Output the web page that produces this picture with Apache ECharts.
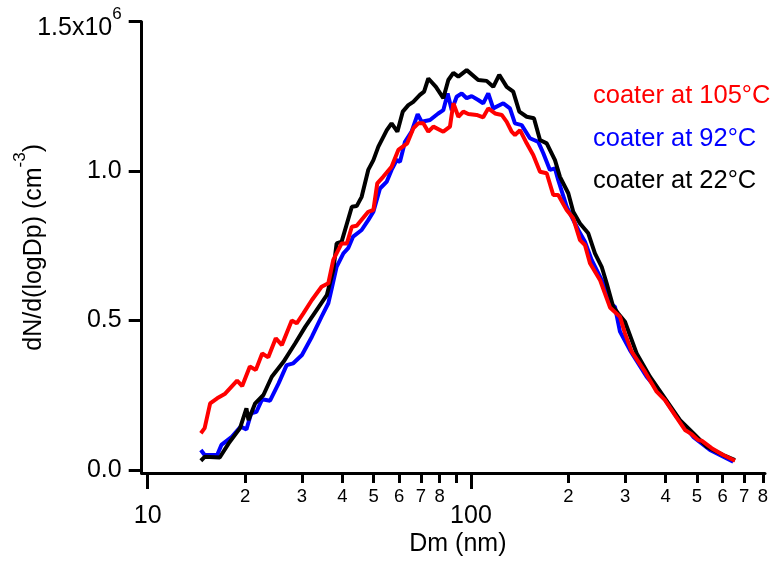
<!DOCTYPE html>
<html><head><meta charset="utf-8">
<script src="https://cdn.jsdelivr.net/npm/echarts@6/dist/echarts.min.js"></script>
<style>html,body{margin:0;padding:0;background:#fff}#c{width:774px;height:562px}</style>
</head><body><div id="c"></div>
<script>
// ---- data (Dm in nm, dN/dlogDp in units of 10^6 cm^-3) ----
const seriesNames = ['coater at 105°C', 'coater at 92°C', 'coater at 22°C'];
const seriesColors = ['#ff0000', '#0000ff', '#000000'];

const redDp = [14.6,15.0,15.6,16.4,17.3,18.9,19.6,20.7,21.6,22.6,23.6,24.9,26.0,27.9,28.9,30.3,32.2,34.5,36.2,37.5,39.8,41.3,42.8,44.3,48.1,49.9,51.3,53.5,56.8,59.6,63.5,66.3,68.7,71.2,73.8,76.5,82.1,86.1,88.2,91.4,94.7,98.1,104.1,109.1,113.1,118.7,124.5,129.0,133.6,136.8,141.8,148.7,155.8,163.5,171.5,179.7,186.2,197.7,207.2,217.4,225.2,233.4,250.6,269.2,289.0,299.5,314.1,345.3,375.3,398.2,427.6,459.2,481.6,504.8,517.1,555.3,603.1,655.7];
const redN = [0.123,0.140,0.223,0.240,0.254,0.299,0.281,0.346,0.335,0.390,0.377,0.441,0.418,0.500,0.491,0.524,0.569,0.613,0.625,0.703,0.758,0.758,0.814,0.817,0.864,0.870,0.959,0.981,1.015,1.071,1.093,1.143,1.160,1.160,1.132,1.149,1.132,1.149,1.227,1.182,1.199,1.191,1.188,1.180,1.210,1.193,1.188,1.165,1.132,1.121,1.137,1.093,1.054,0.998,0.993,0.920,0.920,0.870,0.842,0.769,0.753,0.692,0.636,0.544,0.513,0.457,0.396,0.329,0.262,0.234,0.184,0.134,0.120,0.100,0.098,0.073,0.050,0.031];

const blueDp = [14.6,15.0,16.4,16.9,18.2,19.4,20.2,20.9,21.7,22.6,23.9,25.4,26.9,28.2,30.0,32.2,34.5,36.2,37.1,38.4,40.3,41.7,43.2,45.9,48.1,49.9,52.3,54.9,56.8,58.9,60.3,62.5,65.5,68.4,70.4,74.7,79.2,82.1,84.7,87.2,90.3,93.6,97.0,100.5,105.3,109.1,113.1,117.2,125.9,132.0,136.8,143.5,152.2,161.5,167.4,175.5,181.9,186.2,197.7,204.9,214.8,225.2,236.2,256.6,269.2,278.9,289.0,310.3,349.5,393.3,432.8,487.1,548.7,647.8];
const blueN = [0.067,0.050,0.050,0.084,0.111,0.145,0.136,0.190,0.195,0.237,0.232,0.290,0.351,0.357,0.385,0.446,0.513,0.558,0.608,0.680,0.725,0.742,0.781,0.803,0.836,0.864,0.942,0.965,1.004,1.037,1.031,1.098,1.132,1.191,1.165,1.171,1.193,1.204,1.260,1.204,1.249,1.260,1.244,1.251,1.238,1.227,1.260,1.210,1.227,1.210,1.160,1.154,1.110,1.098,1.060,1.004,1.009,0.970,0.881,0.847,0.803,0.764,0.703,0.625,0.558,0.546,0.463,0.401,0.312,0.245,0.178,0.111,0.067,0.028];

const blackDp = [14.6,15.0,16.7,17.8,19.3,20.2,20.5,21.5,22.8,24.2,26.3,28.6,30.7,33.3,35.8,37.5,38.4,39.8,42.8,44.3,45.9,48.1,49.9,51.7,54.9,56.8,59.2,61.5,64.0,66.3,69.5,71.6,73.8,77.9,82.1,85.1,88.2,91.4,97.0,105.3,111.8,117.2,122.3,129.0,135.1,141.1,148.7,156.6,163.5,171.5,181.9,188.5,200.0,207.2,217.4,230.6,241.8,253.7,262.9,275.4,285.4,299.5,325.5,357.8,398.2,443.2,487.1,536.0,603.1,655.7];
const blackN = [0.031,0.044,0.042,0.089,0.140,0.206,0.167,0.223,0.251,0.312,0.362,0.424,0.479,0.535,0.585,0.669,0.758,0.764,0.881,0.883,0.914,1.004,1.037,1.082,1.137,1.160,1.132,1.199,1.221,1.232,1.255,1.266,1.310,1.282,1.244,1.305,1.329,1.316,1.338,1.305,1.302,1.282,1.322,1.282,1.266,1.199,1.182,1.177,1.104,1.093,1.037,0.981,0.926,0.864,0.825,0.792,0.725,0.680,0.625,0.546,0.524,0.496,0.390,0.312,0.240,0.167,0.123,0.078,0.050,0.033];

// ---- axis ticks / labels ----
const xMajorTicks = [10, 100];
const xMinorTicks = [20,30,40,50,60,70,80,90,200,300,400,500,600,700,800];
const xMinorLabelled = [20,30,40,50,60,70,80,200,300,400,500,600,700,800];
const yTicks = [0, 0.5, 1.0, 1.5];
const xRange = [9.58, 812];
const yRange = [-0.01, 1.5];

// ---- build ----
const FONT = "'Liberation Sans', Arial, sans-serif";
const L = v => Math.log10(v);
const pairs = (xs, ys) => xs.map((x, i) => [L(x), ys[i]]);
const lineData = [pairs(redDp, redN), pairs(blueDp, blueN), pairs(blackDp, blackN)];

const baseX = {
  type: 'value', min: L(xRange[0]), max: L(xRange[1]), position: 'bottom',
  splitLine: { show: false }, nameMoveOverlap: false
};

const option = {
  animation: false,
  backgroundColor: '#fff',
  grid: { left: 141.7, right: 9, top: 21.7, bottom: 89, containLabel: false, outerBoundsMode: 'none' },
  xAxis: [
    Object.assign({}, baseX, {
      name: 'Dm (nm)', nameLocation: 'middle', nameGap: 59,
      nameTextStyle: { fontSize: 25, color: '#000', fontFamily: FONT, padding: [0, 0, 0, 9] },
      axisLine: { show: true, onZero: false, lineStyle: { color: '#000', width: 3 } },
      axisTick: { show: true, inside: false, length: 10, lineStyle: { color: '#000', width: 3 },
                  customValues: xMinorTicks.map(L) },
      axisLabel: { show: true, margin: 14, fontSize: 18.5, color: '#000', fontFamily: FONT,
                   customValues: xMinorLabelled.map(L),
                   formatter: v => String(Math.round(Math.pow(10, v) / Math.pow(10, Math.floor(v + 1e-9)))) }
    }),
    Object.assign({}, baseX, {
      axisLine: { show: false, onZero: false },
      axisTick: { show: true, inside: false, length: 16, lineStyle: { color: '#000', width: 3 },
                  customValues: xMajorTicks.map(L) },
      axisLabel: { show: true, margin: 31, fontSize: 25, color: '#000', fontFamily: FONT,
                   customValues: xMajorTicks.map(L),
                   formatter: v => String(Math.round(Math.pow(10, v))) }
    })
  ],
  yAxis: {
    type: 'value', min: yRange[0], max: yRange[1],
    name: '{t|dN/d(logDp) (cm}{s|-3}{t|)}', nameLocation: 'middle', nameGap: 100, nameMoveOverlap: false,
    nameTextStyle: {
      fontSize: 25, color: '#000', fontFamily: FONT,
      rich: {
        t: { fontSize: 25, lineHeight: 25, padding: [9, 0, 0, 0], fontFamily: FONT, color: '#000' },
        s: { fontSize: 17, lineHeight: 17, padding: [0, 0, 17, 0], fontFamily: FONT, color: '#000' }
      }
    },
    splitLine: { show: false },
    axisLine: { show: true, onZero: false, lineStyle: { color: '#000', width: 3 } },
    axisTick: { show: true, inside: false, length: 13, lineStyle: { color: '#000', width: 3 }, customValues: yTicks },
    axisLabel: {
      show: true, margin: 20, fontSize: 25, color: '#000', fontFamily: FONT,
      customValues: yTicks,
      formatter: v => Math.abs(v - 1.5) < 1e-9 ? '{b|1.5x10}{s|6}' : '{n|' + v.toFixed(1) + '}',
      rich: {
        n: { fontSize: 25, fontFamily: FONT, color: '#000' },
        b: { fontSize: 25, lineHeight: 25, padding: [12, 0, 0, 0], fontFamily: FONT, color: '#000' },
        s: { fontSize: 17, lineHeight: 17, padding: [3, 0, 17, 0], fontFamily: FONT, color: '#000' }
      }
    }
  },
  legend: {
    orient: 'vertical', left: 583, top: 78,
    itemWidth: 0, itemHeight: 24, itemGap: 16.5, icon: 'none', selectedMode: false,
    itemStyle: { opacity: 0 }, lineStyle: { opacity: 0 },
    textStyle: { fontSize: 25.5, fontFamily: FONT },
    data: seriesNames.map((n, i) => ({ name: n, textStyle: { color: seriesColors[i] } }))
  },
  series: [1, 2, 0].map(i => ({
    name: seriesNames[i], type: 'line', xAxisIndex: 0, data: lineData[i],
    showSymbol: false, symbol: 'none', smooth: false,
    lineStyle: { color: seriesColors[i], width: 4 },
    itemStyle: { color: seriesColors[i] }
  }))
};

const chart = echarts.init(document.getElementById('c'), null, { renderer: 'canvas' });
chart.setOption(option);
</script>
</body></html>
